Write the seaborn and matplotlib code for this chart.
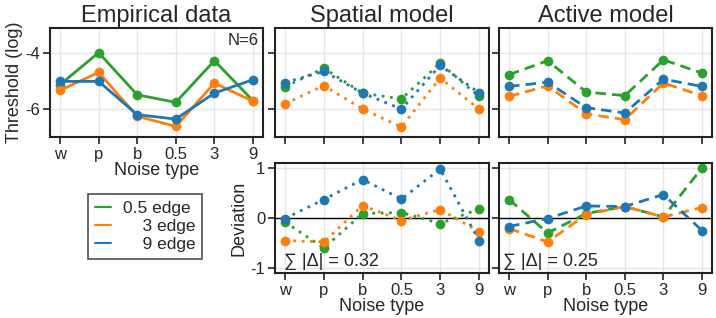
import numpy as np
import pandas as pd
import matplotlib
matplotlib.use("Agg")
import matplotlib.pyplot as plt
import seaborn as sns

# data
noise_types = ["w", "p", "b", "0.5", "3", "9"]
edges = ["0.5 edge", "3 edge", "9 edge"]
colors = ["#2ca02c", "#ff7f0e", "#1f77b4"]

emp_05 = [-5.13, -3.98, -5.49, -5.76, -4.27, -5.70]
emp_3 = [-5.33, -4.69, -6.26, -6.62, -5.07, -5.72]
emp_9 = [-5.01, -5.01, -6.20, -6.36, -5.43, -4.95]

spa_05 = [-5.20, -4.54, -5.43, -5.64, -4.36, -5.55]
spa_3 = [-5.81, -5.16, -6.00, -6.64, -4.89, -6.00]
spa_9 = [-5.05, -4.65, -5.43, -6.00, -4.44, -5.41]

act_05 = [-4.77, -4.27, -5.39, -5.52, -4.24, -4.71]
act_3 = [-5.55, -5.17, -6.17, -6.38, -5.07, -5.52]
act_9 = [-5.19, -5.04, -5.95, -6.14, -4.93, -5.19]

dev_spa_05 = [-0.08, -0.60, 0.09, 0.11, -0.11, 0.18]
dev_spa_3 = [-0.45, -0.48, 0.25, -0.05, 0.17, -0.27]
dev_spa_9 = [-0.01, 0.37, 0.77, 0.38, 0.98, -0.45]

dev_act_05 = [0.37, -0.30, 0.09, 0.23, 0.02, 1.00]
dev_act_3 = [-0.21, -0.48, 0.07, 0.23, 0.02, 0.21]
dev_act_9 = [-0.17, -0.01, 0.24, 0.23, 0.47, -0.25]

sum_spa = 0.32
sum_act = 0.25
n_subj = 6

sns.set_style("whitegrid")
plt.rcParams["font.family"] = ["Liberation Sans", "DejaVu Sans"]
plt.rcParams["axes.edgecolor"] = "#222222"
plt.rcParams["grid.color"] = "#e6e6e6"

fig = plt.figure(figsize=(7.16, 3.18), dpi=100)
W, H = 716, 318


def make_ax(l, t, r, b):
    return fig.add_axes([l / W, 1 - b / H, (r - l) / W, (b - t) / H])


ax_emp = make_ax(50, 28, 263, 137)
ax_spa = make_ax(275, 28, 489, 137)
ax_act = make_ax(499, 28, 712, 137)
ax_dspa = make_ax(275, 163, 489, 273)
ax_dact = make_ax(499, 163, 712, 273)

xpos = np.arange(len(noise_types))


def draw(ax, series, ls):
    for vals, c, lab in zip(series, colors, edges):
        sns.lineplot(x=xpos, y=vals, ax=ax, color=c, linestyle=ls, linewidth=2,
                     marker="o", markersize=7, markeredgewidth=0, label=lab,
                     sort=False, legend=False)


dots = (0, (1, 2))
dashes = (0, (3.8, 2.2))
draw(ax_emp, [emp_05, emp_3, emp_9], "-")
draw(ax_spa, [spa_05, spa_3, spa_9], dots)
draw(ax_act, [act_05, act_3, act_9], dashes)
draw(ax_dspa, [dev_spa_05, dev_spa_3, dev_spa_9], dots)
draw(ax_dact, [dev_act_05, dev_act_3, dev_act_9], dashes)

for ax in [ax_emp, ax_spa, ax_act, ax_dspa, ax_dact]:
    ax.set_xlim(-0.26, 5.26)
    ax.set_xticks(xpos)
    ax.tick_params(axis="both", direction="out", length=5, width=1.2,
                   color="#222222", labelsize=12, pad=2, left=True, bottom=True)
    for s in ax.spines.values():
        s.set_linewidth(1.5)
    ax.grid(True, linewidth=1)
    ax.set_xlabel("")
    ax.set_ylabel("")

for ax in [ax_emp, ax_spa, ax_act]:
    ax.set_ylim(-7.0, -3.1)
    ax.set_yticks([-4, -6])
for ax in [ax_dspa, ax_dact]:
    ax.set_ylim(-1.1, 1.1)
    ax.set_yticks([-1, 0, 1])
    ax.axhline(0, color="black", linewidth=1, zorder=1)

ax_emp.set_xticklabels(noise_types)
ax_emp.set_yticklabels(["-4", "-6"])
ax_spa.set_xticklabels([])
ax_spa.set_yticklabels([])
ax_act.set_xticklabels([])
ax_act.set_yticklabels([])
ax_dspa.set_xticklabels(noise_types)
ax_dspa.set_yticklabels(["-1", "0", "1"])
ax_dact.set_xticklabels(noise_types)
ax_dact.set_yticklabels([])

ax_emp.set_title("Empirical data", fontsize=17, pad=4)
ax_spa.set_title("Spatial model", fontsize=17, pad=4)
ax_act.set_title("Active model", fontsize=17, pad=4)

ax_emp.set_ylabel("Threshold (log)", fontsize=13, labelpad=2)
ax_emp.set_xlabel("Noise type", fontsize=13, labelpad=0)
ax_dspa.set_ylabel("Deviation", fontsize=13, labelpad=2)
ax_dspa.set_xlabel("Noise type", fontsize=13, labelpad=0.5)
ax_dact.set_xlabel("Noise type", fontsize=13, labelpad=0.5)

ax_emp.text(0.98, 0.95, f"N={n_subj}", transform=ax_emp.transAxes,
            ha="right", va="top", fontsize=12)
ax_dspa.text(0.04, 0.03, f"\u2211 |\u0394| = {sum_spa:.2f}", transform=ax_dspa.transAxes,
             ha="left", va="bottom", fontsize=13)
ax_dact.text(0.02, 0.03, f"\u2211 |\u0394| = {sum_act:.2f}", transform=ax_dact.transAxes,
             ha="left", va="bottom", fontsize=13)

# legend below the empirical panel, labels right-aligned by padding
width = max(len(e) for e in edges)
leg_labels = []
for e in edges:
    pad = (width - len(e)) * 2  # a digit is two spaces wide in this font
    leg_labels.append(" " * pad + e)
handles = [plt.Line2D([], [], color=c, linewidth=1.5) for c in colors]
leg = fig.legend(handles, leg_labels, loc="upper left", bbox_to_anchor=(88 / W, 1 - 194 / H),
                 fontsize=12.5, frameon=True, fancybox=False, handlelength=0.9,
                 handletextpad=0.7, borderpad=0.4, labelspacing=0.15,
                 borderaxespad=0)
leg.get_frame().set_edgecolor("#222222")
leg.get_frame().set_linewidth(1.2)

fig.savefig("out.png", dpi=100)
